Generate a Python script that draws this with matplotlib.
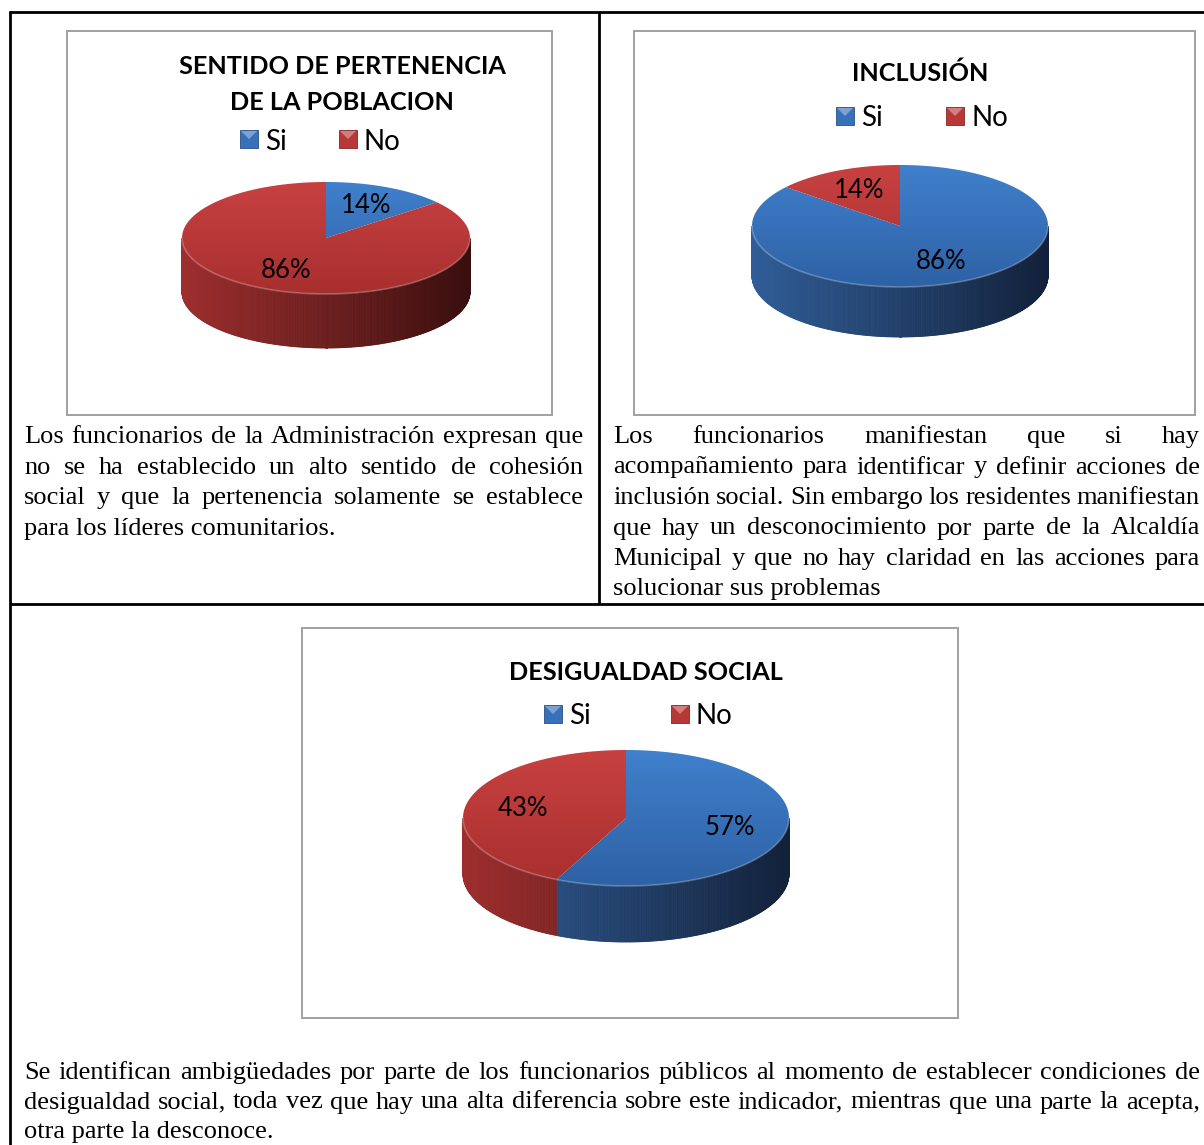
import numpy as np
import matplotlib.pyplot as plt
from matplotlib.patches import Polygon, Rectangle
from matplotlib.colors import to_rgb

# Survey results (percent)
categories = ['Si', 'No']
titles = ['SENTIDO DE PERTENENCIA\nDE LA POBLACION', 'INCLUSIÓN', 'DESIGUALDAD SOCIAL']
pertenencia = [14, 86]
inclusion = [86, 14]
desigualdad = [57, 43]

texto_pertenencia = [
    'Los funcionarios de la Administración expresan que',
    'no se ha establecido un alto sentido de cohesión',
    'social y que la pertenencia solamente se establece',
    'para los líderes comunitarios.',
]
texto_inclusion = [
    'Los funcionarios manifiestan que si hay',
    'acompañamiento para identificar y definir acciones de',
    'inclusión social. Sin embargo los residentes manifiestan',
    'que hay un desconocimiento por parte de la Alcaldía',
    'Municipal y que no hay claridad en las acciones para',
    'solucionar sus problemas',
]
texto_desigualdad = [
    'Se identifican ambigüedades por parte de los funcionarios públicos al momento de establecer condiciones de',
    'desigualdad social, toda vez que hay una  alta diferencia sobre este indicador, mientras que una parte la  acepta,',
    'otra parte la desconoce.',
]

W, H = 1204, 1145
fig = plt.figure(figsize=(W / 100, H / 100), dpi=100)
ax = fig.add_axes([0, 0, 1, 1])
renderer = fig.canvas.get_renderer()

CHART_FONT = 'Lato'
SERIF = 'Liberation Serif'

top_cols = {'Si': ('#4080cc', '#2e61a5'), 'No': ('#c84141', '#a82f2f')}
side_cols = {'Si': ('#305d98', '#12213a'), 'No': ('#9e2e2e', '#3a0e0e')}


def mix(c1, c2, f):
    a, b = np.array(to_rgb(c1)), np.array(to_rgb(c2))
    return tuple(a + (b - a) * f)


def draw_pie(values, cx, cy, rx, ry, depth, label_r=0.65):
    def pt(deg):
        t = np.radians(deg)
        return cx + rx * np.sin(t), cy - ry * np.cos(t)

    total = sum(values)
    spans = []
    start = 0.0
    for v in values:
        spans.append((start, start + 360.0 * v / total))
        start += 360.0 * v / total

    # rim (front half only)
    for (a0, a1), cat in zip(spans, categories):
        lo, hi = max(a0, 90), min(a1, 270)
        if hi <= lo:
            continue
        angs = np.linspace(lo, hi, int((hi - lo) * 2) + 2)
        for t0, t1 in zip(angs[:-1], angs[1:]):
            x0, y0 = pt(t0)
            x1, y1 = pt(t1)
            f = ((x0 + x1) / 2 - (cx - rx)) / (2 * rx)
            col = mix(side_cols[cat][0], side_cols[cat][1], f)
            ax.add_patch(Polygon([(x0, y0), (x1, y1), (x1, y1 + depth), (x0, y0 + depth)],
                                 closed=True, fc=col, ec=col, lw=0.6, zorder=2))

    # top face with vertical gradient
    grad = np.linspace(0, 1, 200)
    for (a0, a1), cat in zip(spans, categories):
        angs = np.linspace(a0, a1, max(int(a1 - a0), 2) + 1)
        poly = Polygon([(cx, cy)] + [pt(a) for a in angs], closed=True, fc='none', ec='none')
        ax.add_patch(poly)
        img = np.array([mix(top_cols[cat][0], top_cols[cat][1], g) for g in grad])[:, None, :]
        im = ax.imshow(img, extent=(cx - rx, cx + rx, cy + ry, cy - ry), origin='upper',
                       aspect='auto', interpolation='bilinear', zorder=3)
        im.set_clip_path(poly)

    # soft highlight on the front edge
    fa = np.linspace(90, 270, 200)
    ex, ey = zip(*[pt(a) for a in fa])
    ax.plot(ex, ey, color='white', alpha=0.25, lw=1.2, zorder=4)

    # percentage labels
    for (a0, a1), v in zip(spans, values):
        mid = np.radians((a0 + a1) / 2)
        lx = cx + label_r * rx * np.sin(mid)
        ly = cy - label_r * ry * np.cos(mid)
        ax.text(lx, ly, f'{v}%', fontsize=18.5, family=CHART_FONT, ha='center', va='center', zorder=5)


def draw_title(title, x, y, step=36):
    for i, part in enumerate(title.split('\n')):
        ax.text(x, y + i * step, part, fontsize=18.2, family=CHART_FONT, weight='bold',
                ha='center', va='center')


def draw_legend(xs, y):
    for x, cat in zip(xs, categories):
        s = 18
        base = mix(top_cols[cat][0], top_cols[cat][1], 0.5)
        ax.add_patch(Rectangle((x, y - s / 2), s, s, fc=base, ec=mix(base, '#000000', 0.3), lw=0.6, zorder=3))
        ax.add_patch(Polygon([(x + 1, y - s / 2 + 1), (x + s - 1, y - s / 2 + 1), (x + s / 2, y)],
                             closed=True, fc=mix(base, '#ffffff', 0.35), ec='none', zorder=4))
        ax.text(x + s + 7, y, cat, fontsize=20, family=CHART_FONT, ha='left', va='center_baseline', zorder=4)


def paragraph(lines, x0, x1, y0, dy, size=19):
    for i, line in enumerate(lines):
        y = y0 + i * dy
        if i == len(lines) - 1:
            ax.text(x0, y, line, fontsize=size, family=SERIF, ha='left', va='baseline')
            continue
        words = line.split()
        texts = [ax.text(0, y, w, fontsize=size, family=SERIF, ha='left', va='baseline') for w in words]
        widths = [t.get_window_extent(renderer).width for t in texts]
        gap = (x1 - x0 - sum(widths)) / (len(words) - 1)
        x = x0
        for t, w in zip(texts, widths):
            t.set_x(x)
            x += w + gap


# table grid
line_kw = dict(color='black', lw=2.0, solid_capstyle='butt')
ax.plot([9, W], [12, 12], **line_kw)
ax.plot([10, 10], [11, H], **line_kw)
ax.plot([599, 599], [12, 604], **line_kw)
ax.plot([10, W], [604, 604], **line_kw)

# chart frames
frame_kw = dict(fill=False, ec='#a0a0a0', lw=1.4)
ax.add_patch(Rectangle((67, 31), 485, 384, **frame_kw))
ax.add_patch(Rectangle((634, 31), 561, 384, **frame_kw))
ax.add_patch(Rectangle((302, 628), 656, 390, **frame_kw))

# chart 1
draw_title(titles[0], 342, 66)
draw_legend([240, 339], 139)
draw_pie(pertenencia, 326, 238, 144, 56, 54)

# chart 2
draw_title(titles[1], 920, 73)
draw_legend([836, 946], 116)
draw_pie(inclusion, 900, 226, 148, 61, 50)

# chart 3
draw_title(titles[2], 646, 673)
draw_legend([544, 671], 714)
draw_pie(desigualdad, 626, 818, 163, 68, 56)

# descriptions
paragraph(texto_pertenencia, 24, 583, 443, 30.5)
paragraph(texto_inclusion, 613, 1200, 443, 30.5)
paragraph(texto_desigualdad, 24, 1200, 1079, 29.5)

ax.set_xlim(0, W)
ax.set_ylim(H, 0)
ax.axis('off')
fig.savefig('out.png', dpi=100)
